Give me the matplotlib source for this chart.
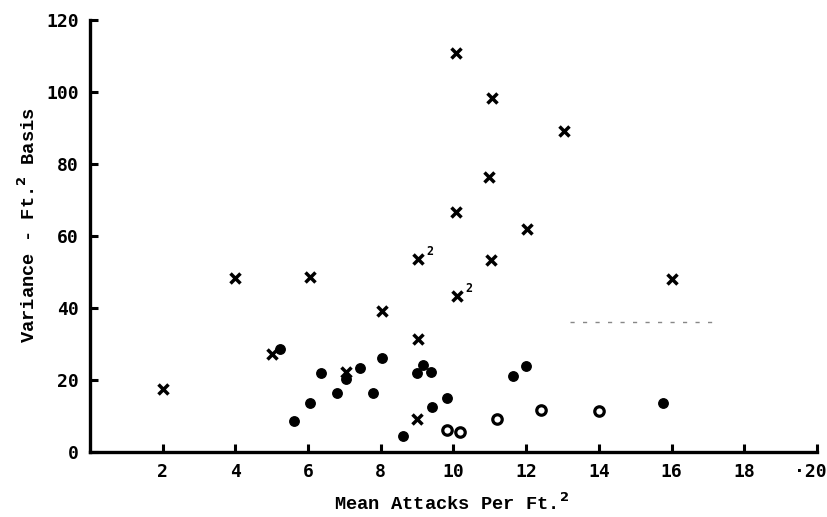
import matplotlib
matplotlib.use("Agg")
import matplotlib.pyplot as plt
from matplotlib.transforms import ScaledTranslation

# crosses (x markers)
cross_x = [2.0, 4.0, 6.05, 5.0, 7.04, 8.03, 9.02, 9.02, 9.0, 10.1, 11.03, 16.0,
           10.07, 11.05, 13.04, 10.98, 10.07, 12.02]
cross_y = [17.5, 48.3, 48.6, 27.2, 22.1, 39.3, 53.6, 31.4, 9.2, 43.3, 53.3, 48.0,
           110.8, 98.3, 89.2, 76.4, 66.7, 61.9]

# filled dots
dot_x = [5.23, 6.35, 7.04, 7.43, 8.03, 6.8, 6.05, 5.61, 7.79, 8.62,
         9.0, 9.17, 9.38, 11.64, 12.0, 9.82, 9.4, 15.76]
dot_y = [28.6, 21.9, 20.3, 23.3, 26.1, 16.4, 13.6, 8.6, 16.4, 4.4,
         21.9, 24.2, 22.2, 21.1, 23.9, 15.0, 12.5, 13.6]

# open circles
open_x = [9.82, 10.18, 11.2, 12.4, 14.0]
open_y = [6.1, 5.6, 9.2, 11.8, 11.4]

# crosses marked "2" (two coincident observations)
double_x = [9.02, 10.1]
double_y = [53.6, 43.3]

x_ticks = [2, 4, 6, 8, 10, 12, 14, 16, 18, 20]
x_tick_labels = ["2", "4", "6", "8", "10", "12", "14", "16", "18", "\u00b720"]
y_ticks = [0, 20, 40, 60, 80, 100, 120]

tick_font = {"family": "DejaVu Sans Mono", "weight": "bold", "size": 13}
label_font = {"family": "Liberation Mono", "weight": "bold", "size": 13.5}

fig = plt.figure(figsize=(8.28, 5.17), dpi=100)
ax = fig.add_axes([0.1087, 0.1257, 0.878, 0.8356])

ax.plot(cross_x, cross_y, linestyle="none", marker="x", markersize=6.5,
        markeredgewidth=2.5, color="black")
ax.plot(dot_x, dot_y, linestyle="none", marker="o", markersize=6.8,
        color="black")
ax.plot(open_x, open_y, linestyle="none", marker="o", markersize=6.8,
        markerfacecolor="white", markeredgewidth=2.3, markeredgecolor="black")

for x, y in zip(double_x, double_y):
    ax.annotate("2", (x, y), xytext=(6, 3), textcoords="offset points",
                fontsize=8.5, fontweight="bold", family="DejaVu Sans Mono")

# faint scan artefact line
ax.plot([13.2, 17.1], [36.2, 36.2], color="#555555", linewidth=1.0,
        linestyle=(0, (3, 6)), alpha=0.7)

ax.set_xlim(0, 20)
ax.set_ylim(0, 120)
ax.set_xticks(x_ticks)
ax.set_xticklabels(x_tick_labels, fontdict=tick_font)
ax.set_yticks(y_ticks)
ax.set_yticklabels([str(v) for v in y_ticks], fontdict=tick_font)
ax.tick_params(direction="in", length=6, width=2.2, pad=8)

# keep the last x label inside the figure
last = ax.get_xticklabels()[-1]
last.set_horizontalalignment("right")
last.set_transform(last.get_transform() + ScaledTranslation(0.10, 0, fig.dpi_scale_trans))

for side in ["top", "right"]:
    ax.spines[side].set_visible(False)
for side in ["left", "bottom"]:
    ax.spines[side].set_linewidth(2.4)

fig.text(0.545, 0.005, "Mean Attacks Per Ft.$^{\\mathbf{2}}$", ha="center",
         va="bottom", fontdict=label_font)
fig.text(0.034, 0.565, "Variance - Ft.$^{\\mathbf{2}}$ Basis", ha="center",
         va="center", rotation=90, fontdict=label_font)

fig.savefig("out.png", dpi=100, facecolor="white")
